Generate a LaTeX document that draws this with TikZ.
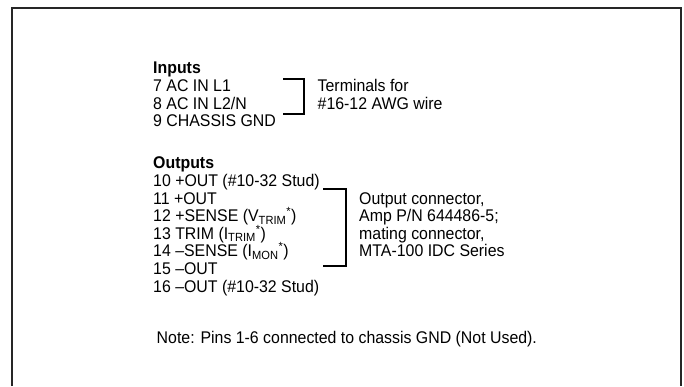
\documentclass[tikz,border=0pt]{standalone}
\usepackage{fontspec}
\setmainfont{Liberation Sans}[FakeStretch=0.94]
\newcommand{\sbs}[1]{\textsubscript{#1}}
\newcommand{\sps}[1]{\textsuperscript{#1}}
\begin{document}
\begin{tikzpicture}[x=1pt,y=-1pt,
  txt/.style={anchor=base west, inner sep=0pt, font=\fontsize{16.9}{17.6}\selectfont},
  hd/.style={anchor=base west, inner sep=0pt, font=\fontsize{16.9}{17.6}\selectfont\bfseries},
  frame/.style={draw=black!85, line width=2pt},
  brk/.style={draw=black, line width=2.4pt}]
\useasboundingbox (0,0) rectangle (684,386);
\draw[frame] (12,386) -- (12,8) -- (681,8) -- (681,386);
% Inputs
\node[hd]  (inh) at (153,73.5) {Inputs};
\node[txt] (i7)  at (153,91.3) {7 AC IN L1};
\node[txt] (i8)  at (153,109.1) {8 AC IN L2/N};
\node[txt] (i9)  at (153,126.9) {9 CHASSIS GND};
\coordinate (ibt) at (283,79);
\coordinate (ibb) at (283,114);
\draw[brk] (ibt) -- (304,79) -- (304,114) -- (ibb);
\node[txt] (it1) at (317.5,91.3) {Terminals for};
\node[txt] (it2) at (317.5,109.1) {\#16-12 AWG wire};
% Outputs
\node[hd]  (outh) at (153,168.5) {Outputs};
\node[txt] (o10) at (153,186.5) {10 +OUT (\#10-32 Stud)};
\node[txt] (o11) at (153,204.1) {11 +OUT};
\node[txt] (o12) at (153,221.7) {12 +SENSE (V\sbs{TRIM}\sps{*})};
\node[txt] (o13) at (153,239.3) {13 TRIM (I\sbs{TRIM}\sps{*})};
\node[txt] (o14) at (153,256.9) {14 –SENSE (I\sbs{MON}\sps{*})};
\node[txt] (o15) at (153,274.5) {15 –OUT};
\node[txt] (o16) at (153,292.1) {16 –OUT (\#10-32 Stud)};
\coordinate (obt) at (323,189);
\coordinate (obb) at (323,266);
\draw[brk] (obt) -- (346,189) -- (346,266) -- (obb);
\node[txt] (ot1) at (359,204.1) {Output connector,};
\node[txt] (ot2) at (359,221.7) {Amp P/N 644486-5;};
\node[txt] (ot3) at (359,239.3) {mating connector,};
\node[txt] (ot4) at (359,256.9) {MTA-100 IDC Series};
% Note
\node[txt] (note) at (156.5,343.3) {Note: Pins 1-6 connected to chassis GND (Not Used).};
\end{tikzpicture}
\end{document}
